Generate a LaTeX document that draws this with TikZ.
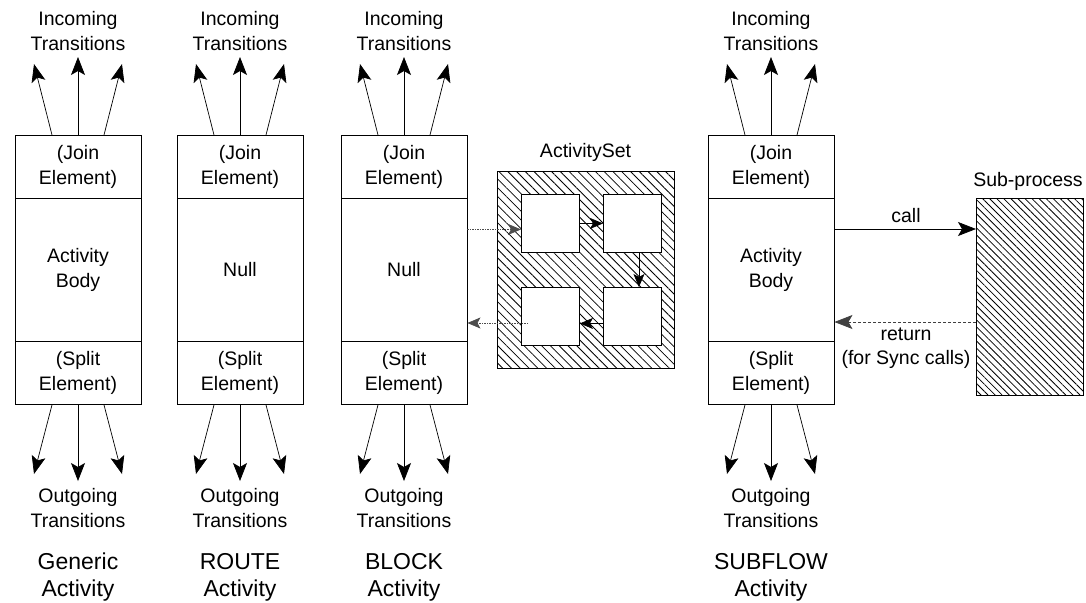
\documentclass[tikz,border=0pt]{standalone}
\usepackage{fontspec}
\setmainfont{Liberation Sans}
\usetikzlibrary{arrows.meta,patterns.meta,calc}

\tikzset{
  part/.style={draw, line width=0.9pt, minimum width=126pt, align=center, inner sep=0pt,
    font=\fontsize{19.5}{24.5}\selectfont, anchor=north},
  joinpart/.style={part, minimum height=63pt},
  bodypart/.style={part, minimum height=143pt},
  splitpart/.style={part, minimum height=63pt},
  lbl/.style={align=center, font=\fontsize{19.5}{24.5}\selectfont, inner sep=0pt},
  biglbl/.style={align=center, font=\fontsize{23}{27}\selectfont, inner sep=0pt},
  trans/.style={-{Stealth[length=18pt,width=14pt,inset=4pt]}, line width=0.7pt},
  smallarr/.style={-{Stealth[length=13pt,width=11pt,inset=3pt]}, line width=0.7pt},
  dotline/.style={dash pattern=on 1.5pt off 1pt, black!70, line width=0.8pt},
  dashline/.style={dash pattern=on 3pt off 2pt, black!75, line width=0.8pt},
  hatch/.style={draw, line width=0.9pt, inner sep=0pt, anchor=north west,
    pattern={Lines[angle=-45,distance=#1,line width=0.8pt]}},
  innerbox/.style={draw, fill=white, line width=0.9pt, inner sep=0pt, anchor=north west,
    minimum width=58pt, minimum height=58pt},
}

\newcommand{\actcol}[4]{%
  \node[joinpart] (#1j) at (#2,135) {(Join\\Element)};
  \node[bodypart] (#1b) at (#2,198) {#3};
  \node[splitpart] (#1s) at (#2,341) {(Split\\Element)};
  \node[lbl] (#1in) at (#2,31) {Incoming\\Transitions};
  \node[lbl] (#1out) at (#2,508) {Outgoing\\Transitions};
  \node[biglbl] (#1name) at (#2,577) {#4};
  \coordinate (#1t1) at ({#2-44},64);
  \coordinate (#1t2) at (#2,57);
  \coordinate (#1t3) at ({#2+44},64);
  \coordinate (#1o1) at ({#2-44},474);
  \coordinate (#1o2) at (#2,481);
  \coordinate (#1o3) at ({#2+44},474);
  \draw[trans] ([xshift=-26pt]#1j.north) -- (#1t1);
  \draw[trans] (#1j.north) -- (#1t2);
  \draw[trans] ([xshift=26pt]#1j.north) -- (#1t3);
  \draw[trans] ([xshift=-26pt]#1s.south) -- (#1o1);
  \draw[trans] (#1s.south) -- (#1o2);
  \draw[trans] ([xshift=26pt]#1s.south) -- (#1o3);
}

\begin{document}
\begin{tikzpicture}[x=1pt,y=-1pt]
\useasboundingbox (0,0) rectangle (1086,602);

\actcol{G}{78}{Activity\\Body}{Generic\\Activity}
\actcol{R}{240}{Null}{ROUTE\\Activity}
\actcol{B}{404}{Null}{BLOCK\\Activity}
\actcol{S}{771}{Activity\\Body}{SUBFLOW\\Activity}

% ActivitySet
\node[hatch=6.2pt, minimum width=177pt, minimum height=197pt] (aset) at (497,171) {};
\node[lbl] (asetlbl) at (585.5,152) {ActivitySet};
\node[innerbox] (a1) at (521,194) {};
\node[innerbox] (a2) at (603,194) {};
\node[innerbox] (a3) at (603,287) {};
\node[innerbox] (a4) at (521,287) {};
\draw[smallarr] (a1) -- (a2);
\draw[smallarr] ([xshift=6.5pt]a2.south) -- ([xshift=6.5pt]a3.north);
\draw[smallarr] ([yshift=-7pt]a3.west) -- ([yshift=-7pt]a4.east);
\coordinate (q1) at ([yshift=-6pt]a1.west);
\coordinate (q2) at (528,323);
\draw[dotline, smallarr] (Bb.east |- q1) -- (q1);
\draw[dotline, smallarr] (q2) -- (Bb.east |- q2);

% Sub-process
\node[hatch=5pt, minimum width=107pt, minimum height=197pt] (sp) at (976,198) {};
\node[lbl] (splbl) at (1028,181) {Sub-process};
\coordinate (callY) at (0,229);
\coordinate (retY) at (0,322);
\draw[trans] (Sb.east |- callY) -- (sp.west |- callY);
\node[lbl] (calllbl) at (906,216) {call};
\draw[dashline, trans] (sp.west |- retY) -- (Sb.east |- retY);
\node[lbl] (retlbl) at (906,348) {return\\(for Sync calls)};
\end{tikzpicture}
\end{document}
